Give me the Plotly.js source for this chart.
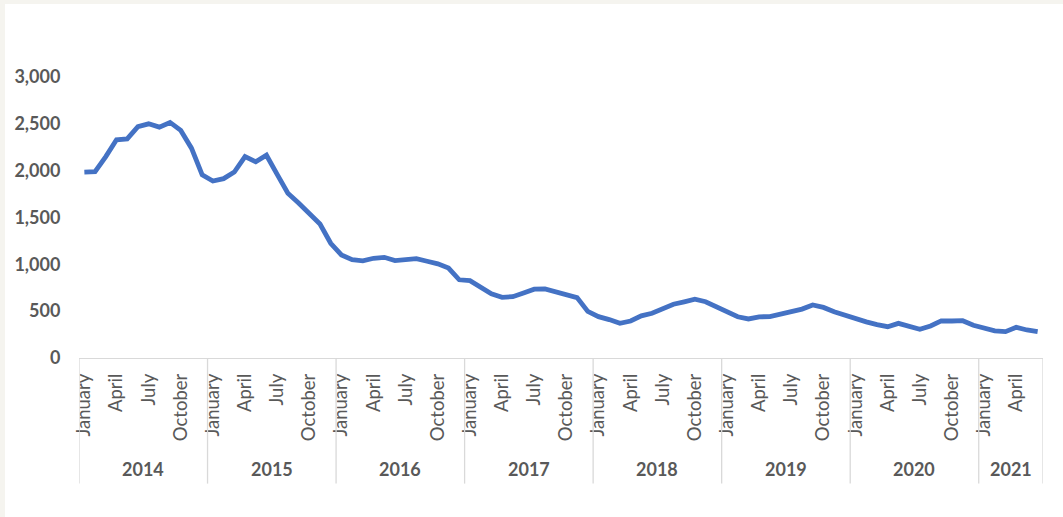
<!DOCTYPE html>
<html>
<head>
<meta charset="utf-8">
<script src="https://cdn.plot.ly/plotly-3.0.1.min.js"></script>
<style>
  html, body { margin: 0; padding: 0; background: #f5f4ef; width: 1063px; height: 517px; overflow: hidden; }
  #chart { position: absolute; left: 5px; top: 4px; width: 1058px; height: 513px; background: #ffffff; }
</style>
</head>
<body>
<div id="chart"></div>
<script>
// ---- data ----
const years = ["2014", "2015", "2016", "2017", "2018", "2019", "2020", "2021"];
const monthNames = ["January", "February", "March", "April", "May", "June",
                    "July", "August", "September", "October", "November", "December"];
const shownMonths = ["January", "April", "July", "October"];

const values2014 = [1985, 1990, 2150, 2330, 2340, 2470, 2500, 2465, 2515, 2430, 2240, 1955];
const values2015 = [1890, 1915, 1985, 2150, 2095, 2165, 1960, 1760, 1655, 1550, 1430, 1225];
const values2016 = [1100, 1050, 1037, 1065, 1075, 1040, 1055, 1060, 1033, 1005, 960, 835];
const values2017 = [826, 750, 685, 648, 655, 695, 735, 737, 705, 686, 645, 497];
const values2018 = [441, 410, 370, 395, 450, 477, 525, 574, 600, 627, 601, 550];
const values2019 = [490, 440, 417, 440, 441, 470, 503, 522, 566, 540, 494, 455];
const values2020 = [420, 386, 356, 334, 370, 342, 306, 342, 396, 395, 398, 350];
const values2021 = [315, 290, 281, 328, 299, 281];

const seriesByYear = [values2014, values2015, values2016, values2017,
                      values2018, values2019, values2020, values2021];

const yTicks = [0, 500, 1000, 1500, 2000, 2500, 3000];

// ---- build category axis ----
const x = [], y = [], tickvals = [], ticktext = [];
const yearStart = [], yearLen = [];
seriesByYear.forEach((vals, yi) => {
  yearStart.push(x.length);
  yearLen.push(vals.length);
  vals.forEach((v, mi) => {
    const cat = monthNames[mi] + " " + years[yi];
    x.push(cat);
    y.push(v);
    if (shownMonths.includes(monthNames[mi])) {
      tickvals.push(cat);
      ticktext.push(monthNames[mi]);
    }
  });
});
const n = x.length;

const textColor = "#595959";
const gridColor = "#d9d9d9";
const font = "Lato, 'Open Sans', sans-serif";

const sepBottom = -0.447;
const shapes = [];
for (let i = 0; i <= years.length; i++) {
  const pos = (i < years.length ? yearStart[i] : n) - 0.5;
  shapes.push({
    type: "line", xref: "x", yref: "paper",
    x0: pos, x1: pos, y0: 0, y1: sepBottom,
    line: { color: gridColor, width: 1.3 }
  });
}
const annotations = years.map((yr, i) => ({
  text: "<b>" + yr + "</b>",
  xref: "x", yref: "paper",
  x: yearStart[i] + (yearLen[i] - 1) / 2,
  y: -0.394, yanchor: "middle", xanchor: "center",
  showarrow: false,
  font: { family: font, size: 18, color: textColor }
}));

const trace = {
  type: "scatter", mode: "lines",
  x: x, y: y,
  line: { color: "#4472c4", width: 4.8 },
  hoverinfo: "x+y"
};

const layout = {
  width: 1058, height: 513,
  margin: { l: 74, r: 20, t: 73, b: 159 },
  paper_bgcolor: "#ffffff",
  plot_bgcolor: "#ffffff",
  showlegend: false,
  font: { family: font, color: textColor },
  xaxis: {
    type: "category",
    range: [-0.5, n - 0.5],
    tickvals: tickvals, ticktext: ticktext,
    tickangle: -90,
    tickfont: { family: font, size: 18.5, color: textColor },
    ticks: "outside", ticklen: 7, tickcolor: "rgba(0,0,0,0)",
    showline: true, linecolor: gridColor, linewidth: 1.3,
    showgrid: false, zeroline: false, fixedrange: true
  },
  yaxis: {
    range: [0, 3000],
    tickvals: yTicks,
    tickformat: ",d",
    tickfont: { family: font, size: 18, color: textColor, weight: "bold" },
    ticks: "outside", ticklen: 14, tickcolor: "rgba(0,0,0,0)",
    showline: false, showgrid: false, zeroline: false, fixedrange: true
  },
  shapes: shapes,
  annotations: annotations
};

Plotly.newPlot("chart", [trace], layout, { displayModeBar: false, staticPlot: true });
</script>
</body>
</html>
